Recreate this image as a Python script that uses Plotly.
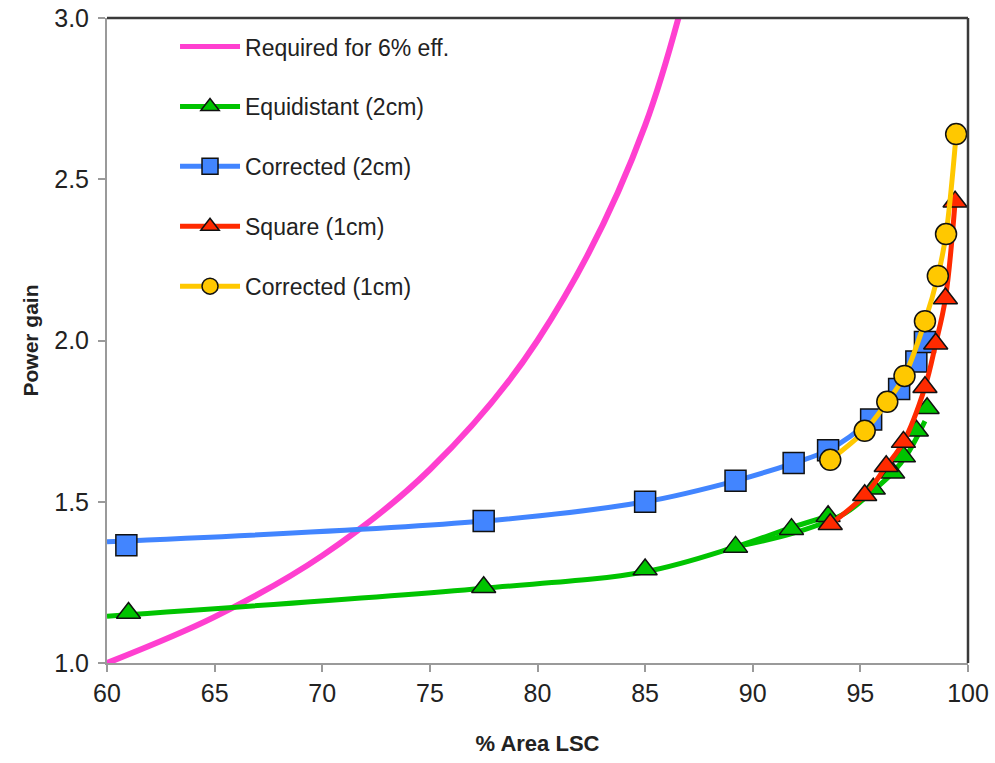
import plotly.graph_objects as go

# Required gain for 6% efficiency
req_x = [60, 65, 70, 75, 80, 85, 90]
req_y = [1.0, 1.143, 1.333, 1.6, 2.0, 2.667, 4.0]

# Equidistant (2cm)
eq_x = [61.0, 77.5, 85.0, 89.2, 91.8, 93.5, 95.6, 96.5, 97.0, 97.6, 98.1]
eq_y = [1.155, 1.235, 1.29, 1.36, 1.415, 1.455, 1.54, 1.59, 1.64, 1.72, 1.79]
# smoothed curves drawn for the equidistant layout
eq_curve_a_x = [60.0, 77.5, 85.0, 89.2, 91.8, 93.5]
eq_curve_a_y = [1.145, 1.232, 1.283, 1.36, 1.42, 1.455]
eq_curve_b_x = [89.2, 92.0, 94.3, 95.6, 96.5, 97.2, 98.0]
eq_curve_b_y = [1.36, 1.405, 1.465, 1.535, 1.59, 1.65, 1.75]

# Corrected (2cm)
c2_x = [60.9, 77.5, 85.0, 89.2, 91.9, 93.5, 95.5, 96.8, 97.6, 98.0]
c2_y = [1.365, 1.44, 1.50, 1.565, 1.62, 1.66, 1.755, 1.85, 1.935, 1.995]
c2_curve_x = [60.0, 77.5, 85.0, 89.2, 91.9, 93.5, 95.5, 96.8, 97.6, 98.0]
c2_curve_y = [1.376, 1.44, 1.50, 1.565, 1.62, 1.66, 1.755, 1.85, 1.935, 1.995]

# Square (1cm)
sq_x = [93.6, 95.2, 96.2, 97.0, 98.0, 98.5, 98.95, 99.4]
sq_y = [1.43, 1.52, 1.61, 1.685, 1.855, 1.99, 2.13, 2.43]

# Corrected (1cm)
c1_x = [93.6, 95.2, 96.25, 97.05, 98.0, 98.6, 98.98, 99.45]
c1_y = [1.63, 1.72, 1.81, 1.89, 2.06, 2.20, 2.33, 2.64]

names = ["Required for 6% eff.", "Equidistant (2cm)", "Corrected (2cm)",
         "Square (1cm)", "Corrected (1cm)"]

PINK = "#FF3FD0"
GREEN = "#00C400"
BLUE = "#4285FF"
RED = "#FF2A00"
YELLOW = "#FFC800"

LW = 5
MS = 21
OUT = dict(color="#111111", width=1.5)

fig = go.Figure()


def curve(x, y, color, width=LW):
    fig.add_trace(go.Scatter(
        x=x, y=y, mode="lines", showlegend=False, hoverinfo="skip",
        line=dict(color=color, width=width, shape="spline", smoothing=1.0)))


def points(x, y, color, symbol):
    fig.add_trace(go.Scatter(
        x=x, y=y, mode="markers", showlegend=False,
        marker=dict(color=color, symbol=symbol, size=MS, line=OUT)))


def legend_entry(name, color, symbol, rank):
    mode = "lines" if symbol is None else "lines+markers"
    fig.add_trace(go.Scatter(
        x=[None], y=[None], mode=mode, name=name, legendgroup=name,
        legendrank=rank,
        line=dict(color=color, width=LW),
        marker=dict(color=color, symbol=symbol or "circle", size=16, line=OUT)))


curve(req_x, req_y, PINK, 6)
curve(eq_curve_a_x, eq_curve_a_y, GREEN)
curve(eq_curve_b_x, eq_curve_b_y, GREEN)
points(eq_x, eq_y, GREEN, "triangle-up")
curve(c2_curve_x, c2_curve_y, BLUE)
points(c2_x, c2_y, BLUE, "square")
curve(sq_x, sq_y, RED)
points(sq_x, sq_y, RED, "triangle-up")
curve(c1_x, c1_y, YELLOW)
points(c1_x, c1_y, YELLOW, "circle")

legend_entry(names[0], PINK, None, 1)
legend_entry(names[1], GREEN, "triangle-up", 2)
legend_entry(names[2], BLUE, "square", 3)
legend_entry(names[3], RED, "triangle-up", 4)
legend_entry(names[4], YELLOW, "circle", 5)

FONT = "Liberation Sans, Arial, sans-serif"
AXIS_GREY = "#9a9a9a"

fig.update_layout(
    width=995, height=763,
    margin=dict(l=107, r=27, t=18, b=100, autoexpand=False),
    paper_bgcolor="white", plot_bgcolor="white",
    font=dict(family=FONT, size=24, color="#222222"),
    legend=dict(
        x=0.079, y=0.989, xanchor="left", yanchor="top",
        bgcolor="rgba(0,0,0,0)", borderwidth=0,
        font=dict(size=23, family=FONT, color="#222222"),
        traceorder="grouped", tracegroupgap=27, itemwidth=60),
    xaxis=dict(
        range=[60, 100], tickmode="array", automargin=False,
        tickvals=[60, 65, 70, 75, 80, 85, 90, 95, 100],
        ticktext=["60", "65", "70", "75", "80", "85", "90", "95", "100"],
        showgrid=False, zeroline=False,
        showline=True, linecolor=AXIS_GREY, linewidth=2,
        ticks="outside", ticklen=7, tickcolor=AXIS_GREY, tickwidth=1.5,
        tickfont=dict(size=25),
        title=dict(text="<b>% Area LSC</b>", font=dict(size=22), standoff=30)),
    yaxis=dict(
        range=[1.0, 3.0], tickmode="array", automargin=False,
        tickvals=[1.0, 1.5, 2.0, 2.5, 3.0],
        ticktext=["1.0", "1.5", "2.0", "2.5", "3.0"],
        showgrid=False, zeroline=False,
        showline=True, linecolor=AXIS_GREY, linewidth=2,
        ticks="outside", ticklen=7, tickcolor=AXIS_GREY, tickwidth=1.5,
        ticklabelstandoff=4,
        tickfont=dict(size=25),
        title=dict(text="<b>Power gain</b>", font=dict(size=21), standoff=10)),
)

# dark frame along the top and right edges of the plot area
fig.add_shape(type="line", xref="paper", yref="paper", x0=0, x1=1, y0=1, y1=1,
              line=dict(color="#3a3a3a", width=2.5), layer="above")
fig.add_shape(type="line", xref="paper", yref="paper", x0=1, x1=1, y0=0, y1=1,
              line=dict(color="#3a3a3a", width=2.5), layer="above")

fig.write_html("out.html")
